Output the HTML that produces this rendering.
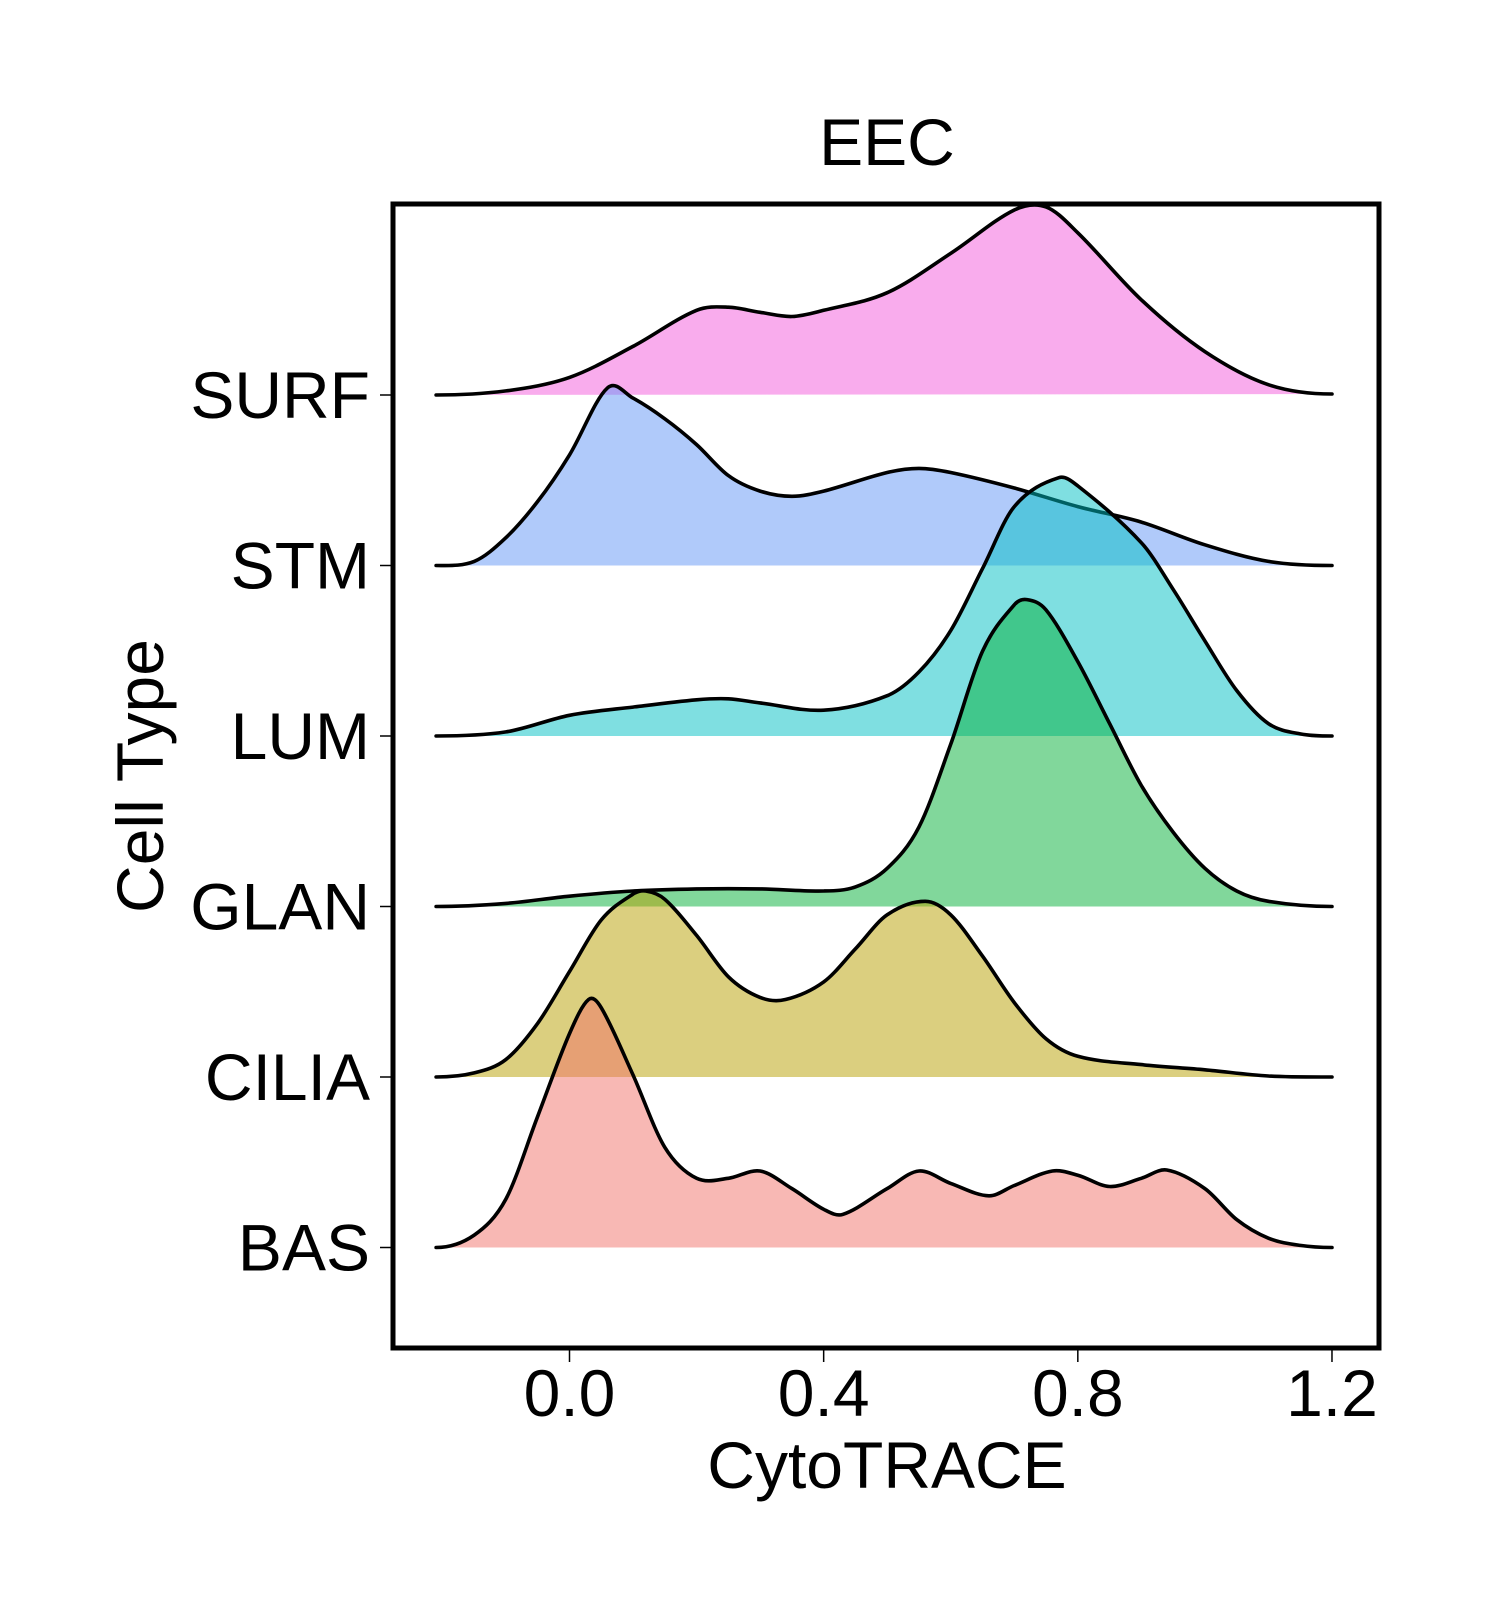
<!DOCTYPE html>
<html><head><meta charset="utf-8"><style>
html,body{margin:0;padding:0;background:#fff;}
svg{display:block;font-family:"Liberation Sans",sans-serif;}
</style></head><body>
<svg id="chart" width="1500" height="1620" viewBox="0 0 1500 1620">
<rect width="1500" height="1620" fill="#fff"/>
<g id="ridges"></g>
<g id="axes"></g>
</svg>
<script>
const categories = ["SURF","STM","LUM","GLAN","CILIA","BAS"];
const colors = ["rgba(243,89,220,0.5)","rgba(97,150,245,0.5)","rgba(0,191,196,0.5)","rgba(3,175,55,0.5)","rgba(183,160,0,0.5)","rgba(242,113,105,0.5)"];
const xTicks = [0.0,0.4,0.8,1.2];
const xTickLabels = ["0.0","0.4","0.8","1.2"];
const surfX = [-0.2,-0.1,0,0.1,0.2,0.25,0.3,0.35,0.4,0.5,0.6,0.7,0.75,0.8,0.9,1.0,1.1,1.2];
const surfY = [0,4,17,47,82,85,80,76,82,99,137,179,182,157,92,42,10,1];
const stmX = [-0.2,-0.15,-0.1,-0.05,0,0.06,0.1,0.15,0.2,0.25,0.3,0.35,0.4,0.5,0.55,0.6,0.7,0.8,0.9,1.0,1.1,1.2];
const stmY = [0,4,27,62,107,172,162,142,117,87,72,67,72,90,94,90,75,57,42,20,4,0];
const lumX = [-0.2,-0.1,0,0.1,0.2,0.25,0.3,0.4,0.5,0.55,0.6,0.65,0.7,0.77,0.8,0.9,0.95,1.0,1.05,1.1,1.15,1.2];
const lumY = [0,4,20,28,35,36,32,25,39,62,102,162,222,250,242,187,142,92,44,12,2,0];
const glanX = [-0.2,-0.1,0,0.1,0.2,0.3,0.4,0.45,0.5,0.55,0.6,0.65,0.7,0.72,0.75,0.8,0.85,0.9,0.95,1.0,1.05,1.1,1.2];
const glanY = [0,3,10,15,17,17,15,19,37,77,157,247,292,297,287,237,177,117,72,37,15,5,0];
const ciliaX = [-0.2,-0.15,-0.1,-0.05,0,0.05,0.1,0.12,0.15,0.2,0.25,0.3,0.34,0.4,0.45,0.5,0.56,0.6,0.65,0.7,0.75,0.8,0.9,1.0,1.1,1.2];
const ciliaY = [0,4,17,52,102,152,177,180,172,137,97,77,75,92,124,157,170,157,117,72,37,20,12,7,1,0];
const basX = [-0.2,-0.15,-0.1,-0.05,0,0.03,0.05,0.1,0.15,0.2,0.25,0.3,0.35,0.4,0.43,0.5,0.55,0.6,0.66,0.7,0.76,0.8,0.85,0.9,0.94,1.0,1.05,1.1,1.15,1.2];
const basY = [0,12,47,127,207,240,232,167,97,67,67,74,57,37,32,57,74,62,50,60,74,70,59,67,75,57,27,9,2,0];
const seriesX = [surfX,stmX,lumX,glanX,ciliaX,basX];
const seriesY = [surfY,stmY,lumY,glanY,ciliaY,basY];

const NS="http://www.w3.org/2000/svg";
const L=393,R=1379,T=204,B=1348;
const x0px=569.5, pxPerUnit=635.4;
function xs(v){return x0px+v*pxPerUnit;}
const base0=395, rowStep=170.5;
function baseY(i){return base0+i*rowStep;}
const hScale=rowStep/165;
function ys(i,h){return baseY(i)-h*hScale;}
function mk(tag,attrs,parent){const e=document.createElementNS(NS,tag);for(const k in attrs)e.setAttribute(k,attrs[k]);parent.appendChild(e);return e;}
function spline(pts){
  const n=pts.length, m=[];
  for(let i=0;i<n;i++){
    const a=pts[Math.max(0,i-1)], b=pts[Math.min(n-1,i+1)];
    m.push((b[1]-a[1])/(b[0]-a[0]));
  }
  m[0]=0; m[n-1]=0;
  let d="M"+pts[0][0].toFixed(1)+","+pts[0][1].toFixed(1);
  for(let i=0;i<n-1;i++){
    const p1=pts[i],p2=pts[i+1],dx=(p2[0]-p1[0])/3;
    d+="C"+(p1[0]+dx).toFixed(1)+","+(p1[1]+m[i]*dx).toFixed(1)+" "+(p2[0]-dx).toFixed(1)+","+(p2[1]-m[i+1]*dx).toFixed(1)+" "+p2[0].toFixed(1)+","+p2[1].toFixed(1);
  }
  return d;
}
const ridges=document.getElementById('ridges');
for(let i=0;i<categories.length;i++){
  const pts=seriesX[i].map((v,j)=>[xs(v),ys(i,seriesY[i][j])]);
  pts[0][0]=xs(-0.21);
  const d=spline(pts);
  const g=mk('g',{},ridges);
  
  
  const f=mk('path',{d:d+"L"+xs(-0.21).toFixed(1)+","+baseY(i)+"Z",fill:colors[i],stroke:"none"},g);
  
  
  const ln=mk('path',{d:d,fill:"none",stroke:"#000","stroke-width":3.6,"stroke-linejoin":"round","stroke-linecap":"round"},g);
  
  
}
const axes=document.getElementById('axes');
const frame=mk('rect',{x:L,y:T,width:R-L,height:B-T,fill:"none",stroke:"#000","stroke-width":5},axes);


for(let i=0;i<xTicks.length;i++){
  const x=xs(xTicks[i]);
  const t=mk('line',{x1:x,x2:x,y1:B+2,y2:B+14,stroke:"#000","stroke-width":1.5},axes);
  
  
  const tx=mk('text',{x:x,y:1416,"text-anchor":"middle","font-size":66,fill:"#000"},axes);
  tx.textContent=xTickLabels[i];
  
  
}
for(let i=0;i<categories.length;i++){
  const y=baseY(i);
  const t=mk('line',{x1:380,x2:L,y1:y,y2:y,stroke:"#000","stroke-width":1.5},axes);
  
  
  const tx=mk('text',{x:370,y:y+23,"text-anchor":"end","font-size":66,fill:"#000"},axes);
  tx.textContent=categories[i];
  
  
}
</script>
<svg style="position:absolute;left:0;top:0" width="1500" height="1620">
<text x="887" y="165" text-anchor="middle" font-size="66" font-family="Liberation Sans, sans-serif">EEC</text>
<text x="887" y="1488" text-anchor="middle" font-size="66" font-family="Liberation Sans, sans-serif">CytoTRACE</text>
<text x="0" y="0" transform="translate(163,776) rotate(-90)" text-anchor="middle" font-size="66" font-family="Liberation Sans, sans-serif">Cell Type</text>
</svg>
</body></html>
